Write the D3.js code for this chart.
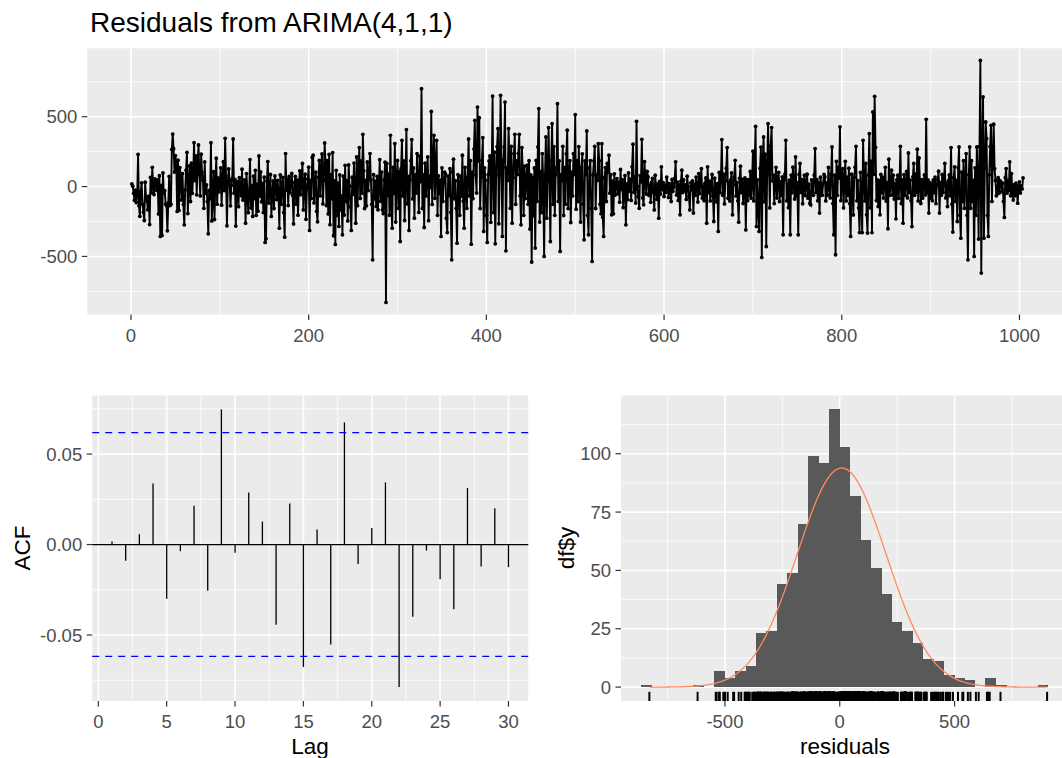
<!DOCTYPE html>
<html>
<head>
<meta charset="utf-8">
<script src="https://cdn.jsdelivr.net/npm/d3@7"></script>
<style>
  body { margin: 0; background: #fff; }
  svg { display: block; }
  text { font-family: "Liberation Sans", Arial, sans-serif; }
</style>
</head>
<body>
<div id="chart"></div>
<script>
// residuos del modelo, leidos a ojo del grafico (t = 1 .. 1004)
var residuals = [
  19,3,-47,-98,-26,-114,-63,231,-137,-213,-34,27,-126,-184,-243,31,-78,-104,-166,-69,
  -272,66,-45,138,-3,-57,54,29,-27,47,-196,78,-357,8,-350,97,-46,-29,-125,-137,
  -317,-116,73,-135,-127,266,376,271,104,222,167,-178,189,-171,136,64,-97,93,-128,-274,
  -24,117,245,-193,26,148,-107,168,-48,77,314,43,219,-59,154,298,86,-67,232,104,
  46,-156,177,-49,12,-106,-338,-28,-87,314,-246,-68,106,-236,37,203,-126,62,-38,24,
  134,-133,49,178,-28,345,71,-281,22,126,44,-138,9,56,341,-47,52,-283,17,36,
  -144,63,-4,-66,124,-96,-37,48,-262,93,-26,-187,-49,193,-154,7,-214,74,-86,116,
  -206,18,-176,219,-68,105,-109,23,-186,67,-400,-373,39,179,-118,-24,87,-214,-57,41,
  -157,76,-2,-93,44,-39,-298,84,-127,13,66,-185,-362,236,-26,51,-136,72,-45,16,
  94,-64,-267,28,73,-126,47,-205,6,113,-58,63,165,-167,25,88,-234,-17,55,139,
  -314,42,-86,208,224,-117,15,103,-177,-252,66,187,-66,132,233,-124,45,312,166,-136,
  186,-196,231,-273,85,-88,243,-352,41,-414,116,-207,24,-285,83,-166,-68,-345,74,-204,
  152,-107,43,-246,155,4,-146,-314,67,-55,168,-29,-262,212,-137,126,279,-85,184,-47,
  374,113,-157,45,-138,176,-28,82,236,48,-127,-524,86,-88,39,-143,73,-166,11,193,
  -105,104,-167,-194,47,174,-829,166,-64,89,-205,367,-126,-298,137,-48,308,-254,43,187,
  -156,107,-393,128,331,-68,184,-243,65,408,-124,72,-314,49,185,336,-88,133,-226,84,
  -46,236,44,-185,218,35,700,-157,83,-293,167,-67,108,212,-244,75,-6,538,-128,183,
  367,-84,146,331,-206,77,-48,46,-357,134,-106,27,103,88,-226,-329,74,-65,128,-184,
  -524,105,196,-87,42,-156,-405,86,24,-206,74,-69,224,-104,-298,137,17,-156,63,341,
  -67,186,-412,104,-86,268,474,83,-46,569,184,493,-157,66,188,350,-321,134,45,-206,
  -400,86,183,219,-256,104,648,-186,246,-410,82,286,415,-266,85,653,188,-357,136,284,
  605,-460,133,44,415,186,-156,288,-262,63,236,374,-127,184,86,238,374,-66,-274,279,
  104,-206,147,-86,43,153,-127,185,-304,84,-540,66,-207,133,-440,187,-106,284,558,-254,
  106,-186,236,44,-500,83,355,-226,103,422,47,-393,186,450,-127,286,-206,84,135,593,
  -106,184,-464,86,42,288,-207,136,-126,234,403,-157,83,186,-257,104,-67,236,85,515,
  -162,185,-107,286,44,-254,136,234,-126,-381,184,86,398,-206,-345,133,186,-156,-536,83,
  184,288,-157,84,45,308,185,-126,-195,308,-219,-357,63,136,-107,165,104,224,-47,85,
  -202,38,-195,91,-61,16,57,-52,31,-112,122,-21,49,-151,7,79,-274,19,-93,97,
  -33,52,-99,141,303,-41,71,-118,467,2,-73,-155,79,33,338,-81,-131,178,39,-53,
  109,69,-62,11,-113,29,58,-39,-167,81,-8,-91,19,-226,37,-54,141,-22,28,-71,
  9,-42,68,18,-79,21,-11,-107,51,-34,-2,59,177,-61,32,-99,12,-202,38,117,
  -43,47,-31,12,-92,74,1,-72,-167,27,-23,41,-190,17,-63,68,-3,-111,93,-51,
  48,129,-82,3,-101,22,62,-262,141,-44,39,-103,8,87,-69,-250,61,-4,-109,21,
  -321,101,-43,66,336,-62,89,-124,42,131,279,-84,26,-104,46,98,-202,13,67,188,
  -68,29,-102,-255,59,146,-44,51,-121,17,62,-310,47,-101,49,-64,108,-83,23,253,
  -103,181,431,-286,48,-152,-321,131,283,-507,179,355,-109,232,-429,88,450,182,-153,291,
  422,41,81,-122,28,138,-82,52,101,-107,36,-62,69,-345,47,89,331,-102,21,-151,
  46,-345,82,-44,139,11,-89,212,-68,27,-345,87,165,-42,49,-123,16,81,-64,26,
  88,-83,18,-121,-131,47,2,-63,82,272,-43,49,-102,28,-190,67,9,-62,22,87,
  69,-103,27,-62,137,8,-81,89,284,-122,-345,81,-488,181,-63,138,61,427,-101,47,
  129,-153,48,181,-103,68,-62,131,-122,-357,88,29,-203,67,139,288,-102,42,-152,-329,
  101,-62,-329,331,49,-103,166,-202,-333,82,379,-152,182,-329,534,88,646,281,-101,48,
  -143,42,-202,87,-43,68,-82,41,138,-104,28,-302,196,-63,18,117,-61,82,-89,21,
  -231,47,81,-84,29,288,-122,48,-262,86,-62,21,108,-81,241,-42,46,-101,-286,69,
  165,-63,88,-41,267,-103,205,27,-121,49,-83,12,83,-61,481,-44,47,-190,29,-82,
  22,-101,48,-43,68,-122,7,49,110,-190,28,-62,87,-42,46,165,-81,23,-143,41,
  84,-66,279,-126,-326,63,141,-106,44,-250,134,284,-206,-369,104,-107,185,-156,43,236,
  -206,-524,84,284,-156,185,-106,44,-500,134,-206,284,85,-376,286,903,-619,184,641,-369,
  134,462,343,-206,-357,84,286,438,-106,185,446,129,44,-66,-52,63,-47,43,34,-36,
  24,-106,-221,64,129,-47,44,-27,177,-66,93,-47,-97,14,-66,25,-27,-119,6,34,
  -46,5,-17,62
];

// ACF de los residuos (lags 1..30)
var acfLags = [1,2,3,4,5,6,7,8,9,10,11,12,13,14,15,16,17,18,19,20,21,22,23,24,25,26,27,28,29,30];
var acfValues = [0.0017,-0.0089,0.0057,0.0338,-0.0299,-0.0037,0.0214,-0.0255,0.0747,-0.0046,
                 0.0288,0.0127,-0.0443,0.0227,-0.0677,0.0083,-0.0553,0.0675,-0.0107,0.0092,
                 0.0343,-0.0788,-0.0399,-0.0033,-0.0192,-0.0358,0.0312,-0.0122,0.0201,-0.0125];

// histograma: inicio del primer bin, ancho y cuentas
var binStart = -864;
var binWidth = 45.4;
var histCounts = [1,0,0,0,0,1,0,7,4,7,9,23,24,44,49,70,99,96,119,103,
                  82,63,51,40,28,24,19,12,11,5,4,3,0,4,1,0,0,0,1];

// etiquetas de los ejes
var topXTicks = [0,200,400,600,800,1000];
var topYTicks = [-500,0,500];
var acfXTicks = [0,5,10,15,20,25,30];
var acfYTicks = [-0.05,0,0.05];
var histXTicks = [-500,0,500];
var histYTicks = [0,25,50,75,100];

var width = 1062, height = 758;
var panelBg = '#EBEBEB', tickColor = '#333333', labelColor = '#4D4D4D';
var tickSize = 18.5, titleSize = 22.5;

var svg = d3.select('#chart')
    .append('svg')
    .attr('width', width)
    .attr('height', height);

// expansion 5% como ggplot
function expand(ext) {
    var d = (ext[1] - ext[0]) * 0.05;
    return [ext[0] - d, ext[1] + d];
}

// minor breaks: puntos medios entre los major (y uno mas a cada lado)
function minorBreaks(major, domain) {
    var step = major[1] - major[0];
    var ext = [major[0] - step].concat(major, [major[major.length - 1] + step]);
    var out = [];
    for (var i = 0; i < ext.length - 1; i++) {
        var m = (ext[i] + ext[i + 1]) / 2;
        if (m >= domain[0] && m <= domain[1]) out.push(m);
    }
    return out;
}

// fondo gris + rejilla blanca + ticks y etiquetas
function drawPanel(x, y, xTicks, yTicks, fmtX, fmtY) {
    var g = svg.append('g');
    var xr = x.range(), yr = y.range();
    g.append('rect')
        .attr('x', xr[0]).attr('y', yr[1])
        .attr('width', xr[1] - xr[0]).attr('height', yr[0] - yr[1])
        .attr('fill', panelBg);

    g.selectAll('.minx').data(minorBreaks(xTicks, x.domain())).enter().append('line')
        .attr('x1', d => x(d)).attr('x2', d => x(d)).attr('y1', yr[0]).attr('y2', yr[1])
        .attr('stroke', '#fff').attr('stroke-width', 0.8);
    g.selectAll('.miny').data(minorBreaks(yTicks, y.domain())).enter().append('line')
        .attr('y1', d => y(d)).attr('y2', d => y(d)).attr('x1', xr[0]).attr('x2', xr[1])
        .attr('stroke', '#fff').attr('stroke-width', 0.8);
    g.selectAll('.majx').data(xTicks).enter().append('line')
        .attr('x1', d => x(d)).attr('x2', d => x(d)).attr('y1', yr[0]).attr('y2', yr[1])
        .attr('stroke', '#fff').attr('stroke-width', 1.6);
    g.selectAll('.majy').data(yTicks).enter().append('line')
        .attr('y1', d => y(d)).attr('y2', d => y(d)).attr('x1', xr[0]).attr('x2', xr[1])
        .attr('stroke', '#fff').attr('stroke-width', 1.6);

    // ticks del eje x
    g.selectAll('.tx').data(xTicks).enter().append('line')
        .attr('x1', d => x(d)).attr('x2', d => x(d)).attr('y1', yr[0]).attr('y2', yr[0] + 5.5)
        .attr('stroke', tickColor).attr('stroke-width', 1.2);
    g.selectAll('.lx').data(xTicks).enter().append('text')
        .attr('x', d => x(d)).attr('y', yr[0] + 27)
        .attr('text-anchor', 'middle').attr('font-size', tickSize).attr('fill', labelColor)
        .text(fmtX);

    // ticks del eje y
    g.selectAll('.ty').data(yTicks).enter().append('line')
        .attr('y1', d => y(d)).attr('y2', d => y(d)).attr('x1', xr[0] - 5.5).attr('x2', xr[0])
        .attr('stroke', tickColor).attr('stroke-width', 1.2);
    g.selectAll('.ly').data(yTicks).enter().append('text')
        .attr('x', xr[0] - 10).attr('y', d => y(d) + 6.6)
        .attr('text-anchor', 'end').attr('font-size', tickSize).attr('fill', labelColor)
        .text(fmtY);
    return g;
}

//1. Serie de residuos
var n = residuals.length;
var xTop = d3.scaleLinear().domain(expand([1, n])).range([87.3, 87.3 + 1103.3 * 0.8885]);
var yTop = d3.scaleLinear().domain(expand(d3.extent(residuals))).range([314.5, 48.3]);
var gTop = drawPanel(xTop, yTop, topXTicks, topYTicks, d => String(d), d => String(d));

var line = d3.line().x((d, i) => xTop(i + 1)).y(d => yTop(d));
gTop.append('path')
    .datum(residuals)
    .attr('d', line)
    .attr('fill', 'none')
    .attr('stroke', '#000')
    .attr('stroke-width', 1.9);
gTop.selectAll('circle').data(residuals).enter().append('circle')
    .attr('cx', (d, i) => xTop(i + 1))
    .attr('cy', d => yTop(d))
    .attr('r', 1.9)
    .attr('fill', '#000');

svg.append('text')
    .attr('x', 90).attr('y', 32)
    .attr('font-size', 28).attr('fill', '#000')
    .text('Residuals from ARIMA(4,1,1)');

//2. ACF
var ci = 1.96 / Math.sqrt(n);
var xAcf = d3.scaleLinear().domain(expand([1, 30])).range([92.2, 528.3]);
var yAcf = d3.scaleLinear().domain(expand(d3.extent(acfValues))).range([701, 395.5]);
var gAcf = drawPanel(xAcf, yAcf, acfXTicks, acfYTicks, d => String(d), d => d.toFixed(2));

gAcf.selectAll('.seg').data(acfLags).enter().append('line')
    .attr('x1', d => xAcf(d)).attr('x2', d => xAcf(d))
    .attr('y1', yAcf(0)).attr('y2', (d, i) => yAcf(acfValues[i]))
    .attr('stroke', '#000').attr('stroke-width', 1.3);
gAcf.append('line')
    .attr('x1', xAcf.range()[0]).attr('x2', xAcf.range()[1])
    .attr('y1', yAcf(0)).attr('y2', yAcf(0))
    .attr('stroke', '#000').attr('stroke-width', 1.3);
gAcf.selectAll('.ci').data([ci, -ci]).enter().append('line')
    .attr('x1', xAcf.range()[0]).attr('x2', xAcf.range()[1])
    .attr('y1', d => yAcf(d)).attr('y2', d => yAcf(d))
    .attr('stroke', '#0000FF').attr('stroke-width', 1.3)
    .attr('stroke-dasharray', '7,6');

svg.append('text')
    .attr('x', 310).attr('y', 754)
    .attr('text-anchor', 'middle').attr('font-size', titleSize).attr('fill', '#000')
    .text('Lag');
svg.append('text')
    .attr('transform', 'translate(30,548) rotate(-90)')
    .attr('text-anchor', 'middle').attr('font-size', titleSize).attr('fill', '#000')
    .text('ACF');

//3. Histograma con curva normal y rug
var bins = histCounts.map((c, i) => ({x0: binStart + i * binWidth, x1: binStart + (i + 1) * binWidth, count: c}));
var xHist = d3.scaleLinear()
    .domain(expand([binStart, binStart + histCounts.length * binWidth]))
    .range([621, 621 + 1949.7 * 0.2294]);
var yHist = d3.scaleLinear().domain(expand([0, d3.max(histCounts)])).range([701, 395.5]);
var gHist = drawPanel(xHist, yHist, histXTicks, histYTicks, d => String(d), d => String(d));

gHist.selectAll('.bar').data(bins.filter(b => b.count > 0)).enter().append('rect')
    .attr('x', d => xHist(d.x0))
    .attr('width', d => xHist(d.x1) - xHist(d.x0) + 0.5)
    .attr('y', d => yHist(d.count))
    .attr('height', d => yHist(0) - yHist(d.count))
    .attr('fill', '#595959')
    .attr('shape-rendering', 'crispEdges');

// curva normal con media y desviacion de los residuos
var mu = d3.mean(residuals), sd = d3.deviation(residuals);
var ext = d3.extent(residuals);
var xs = d3.range(0, 201).map(k => ext[0] + (ext[1] - ext[0]) * k / 200);
var normLine = d3.line()
    .x(d => xHist(d))
    .y(d => yHist(n * binWidth * Math.exp(-0.5 * Math.pow((d - mu) / sd, 2)) / (sd * Math.sqrt(2 * Math.PI))));
gHist.append('path')
    .datum(xs)
    .attr('d', normLine)
    .attr('fill', 'none')
    .attr('stroke', '#FF8A62')
    .attr('stroke-width', 1.3);

var rugLen = 0.03 * (701 - 395.5);
gHist.selectAll('.rug').data(residuals).enter().append('line')
    .attr('x1', d => xHist(d)).attr('x2', d => xHist(d))
    .attr('y1', 701).attr('y2', 701 - rugLen)
    .attr('stroke', '#000').attr('stroke-width', 2);

svg.append('text')
    .attr('x', 845).attr('y', 754)
    .attr('text-anchor', 'middle').attr('font-size', titleSize).attr('fill', '#000')
    .text('residuals');
svg.append('text')
    .attr('transform', 'translate(574,548) rotate(-90)')
    .attr('text-anchor', 'middle').attr('font-size', titleSize).attr('fill', '#000')
    .text('df$y');
</script>
</body>
</html>
